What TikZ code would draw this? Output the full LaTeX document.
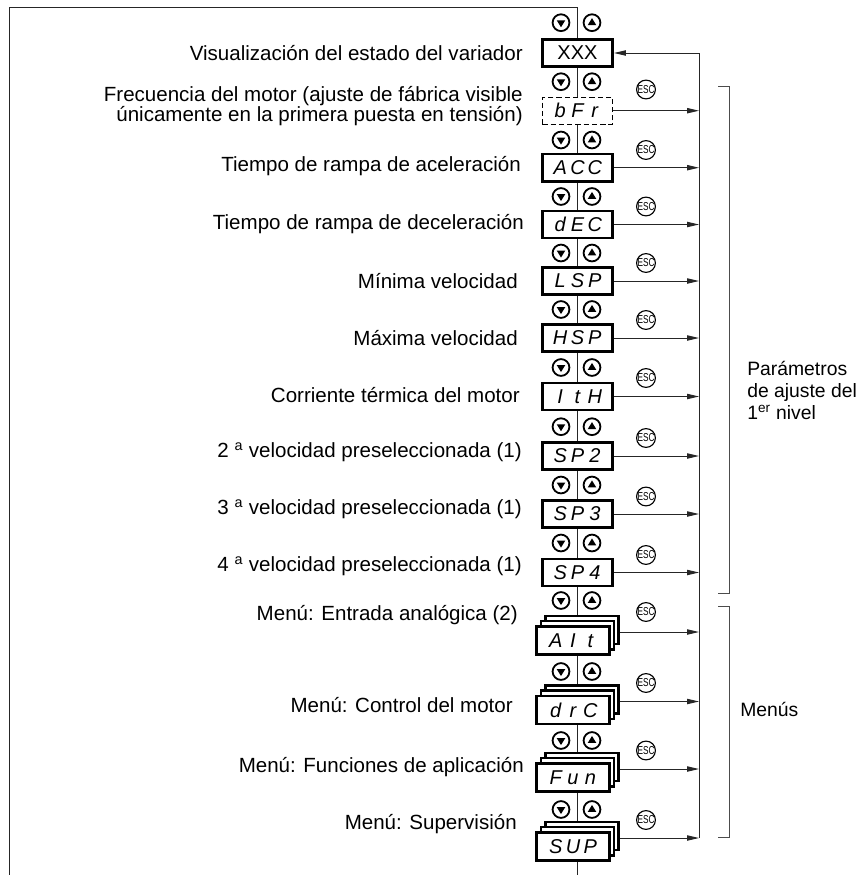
\documentclass[tikz,border=0pt]{standalone}
\usepackage{fontspec}
\setmainfont{Liberation Sans}
\usetikzlibrary{arrows.meta}
\newcommand{\segtxt}[3]{\makebox[13pt]{#1}\makebox[13pt]{#2}\makebox[13pt]{#3}}
\tikzset{
  conn/.style={line width=0.75pt, draw=black!85},
  arr/.style={conn, -{Triangle[length=9pt,width=4pt]}},
  lbl/.style={anchor=east, inner sep=0pt, font=\fontsize{15.4pt}{13.6pt}\selectfont, align=right},
  rlbl/.style={anchor=west, inner sep=0pt, font=\fontsize{14.5pt}{16.5pt}\selectfont, align=left},
  disp/.style={draw, line width=1.9pt, fill=white, minimum width=52.8pt, minimum height=20.5pt, inner sep=0pt, font=\itshape\fontsize{15pt}{15pt}\selectfont},
  dashdisp/.style={disp, line width=0.7pt, dash pattern=on 4pt off 2.2pt},
  mdisp/.style={disp, minimum width=55pt, minimum height=21.3pt},
  btn/.style={circle, draw, line width=1.35pt, minimum size=12.6pt, inner sep=0pt, fill=white},
  btndown/.style={btn, path picture={\fill[black] ([shift={(-3.2pt,1.8pt)}]path picture bounding box.center) -- ([shift={(3.2pt,1.8pt)}]path picture bounding box.center) -- ([shift={(0pt,-3.4pt)}]path picture bounding box.center) -- cycle;}},
  btnup/.style={btn, path picture={\fill[black] ([shift={(-3.2pt,-1.8pt)}]path picture bounding box.center) -- ([shift={(3.2pt,-1.8pt)}]path picture bounding box.center) -- ([shift={(0pt,3.4pt)}]path picture bounding box.center) -- cycle;}},
  esc/.style={circle, draw, line width=0.85pt, minimum size=14pt, inner sep=0pt, fill=white, font=\fontsize{8.6pt}{8.6pt}\selectfont},
  brk/.style={line width=0.7pt, draw=black!70}
}
\begin{document}
\begin{tikzpicture}[x=0.75pt,y=-0.75pt]
\useasboundingbox (0,0) rectangle (861,875);
\coordinate (col) at (577.5,0);
\coordinate (ftop) at (577.5,7);
\coordinate (fbl) at (9,875);
\coordinate (fbot) at (577.5,875);

% single boxes
\node[disp, font=\fontsize{15pt}{15pt}\selectfont] (xxx) at (577.5,53) {XXX};
\node[dashdisp] (bfr) at (577.5,110.7) {\segtxt{b}{F}{r}};
\node[disp] (acc) at (577.5,167.7) {\segtxt{A}{C}{C}};
\node[disp] (dec) at (577.5,224.5) {\segtxt{d}{E}{C}};
\node[disp] (lsp) at (577.5,281) {\segtxt{L}{S}{P}};
\node[disp] (hsp) at (577.5,338) {\segtxt{H}{S}{P}};
\node[disp] (ith) at (577.5,396.5) {\segtxt{I}{t}{H}};
\node[disp] (spb) at (577.5,456) {\segtxt{S}{P}{2}};
\node[disp] (spc) at (577.5,514) {\segtxt{S}{P}{3}};
\node[disp] (spd) at (577.5,572.5) {\segtxt{S}{P}{4}};

% stacked menu boxes (arrow level \yy)
\foreach \nm/\yy/\a/\b/\c in {ait/632/A/I/t, drc/701.5/d/r/C, fun/769/F/u/n, sup/838/S/U/P}{
  \node[mdisp] (\nm C) at (582,\yy-2) {};
  \node[mdisp] (\nm B) at (577.5,\yy+3.3) {};
  \node[mdisp] (\nm A) at (573,\yy+8.5) {\segtxt{\a}{\b}{\c}};
  \coordinate (\nm R) at (699,\yy);
}

% frame and centre line
\draw[conn] (fbl) -- (9,7) -- (ftop) -- (xxx.north);
\draw[conn] (xxx.south) -- (bfr.north);
\draw[conn] (bfr.south) -- (acc.north);
\draw[conn] (acc.south) -- (dec.north);
\draw[conn] (dec.south) -- (lsp.north);
\draw[conn] (lsp.south) -- (hsp.north);
\draw[conn] (hsp.south) -- (ith.north);
\draw[conn] (ith.south) -- (spb.north);
\draw[conn] (spb.south) -- (spc.north);
\draw[conn] (spc.south) -- (spd.north);
\draw[conn] (spd.south) -- (col |- aitC.north);
\draw[conn] (col |- aitA.south) -- (col |- drcC.north);
\draw[conn] (col |- drcA.south) -- (col |- funC.north);
\draw[conn] (col |- funA.south) -- (col |- supC.north);
\draw[conn] (col |- supA.south) -- (fbot);

% buttons
\foreach \yy [count=\i] in {22.7,81.7,140,196.5,253,309.5,367.5,426.7,485,543,600.5,671.5,740.5,809.5}{
  \node[btndown] (dn\i) at (561,\yy) {};
  \node[btnup] (up\i) at (592,\yy) {};
}

% return line and arrows
\coordinate (rtop) at (699,53);
\draw[arr] (supR) -- (rtop) -- (xxx.east);
\foreach \nm in {bfr,acc,dec,lsp,hsp,ith,spb,spc,spd}{
  \draw[arr] (\nm.east) -- (\nm.east -| rtop);
}
\foreach \nm in {ait,drc,fun,sup}{
  \draw[arr] (\nm R -| \nm C.east) -- (\nm R);
}

% ESC buttons
\foreach \nm/\yy in {e1/89.5,e2/150,e3/206.5,e4/263,e5/320,e6/378,e7/438,e8/496.5,e9/555,e10/612,e11/683,e12/750.5,e13/820}{
  \node[esc] (\nm) at (646,\yy) {\scalebox{0.72}[1]{ESC}};
}

% labels
\node[lbl] (l0) at (523,53) {Visualización del estado del variador};
\node[lbl] (l1) at (523,106) {Frecuencia del motor (ajuste de fábrica visible\\únicamente en la primera puesta en tensión)};
\node[lbl] (l2) at (521,166) {Tiempo de rampa de aceleración};
\node[lbl] (l3) at (524,224) {Tiempo de rampa de deceleración};
\node[lbl] (l4) at (518,281) {Mínima velocidad};
\node[lbl] (l5) at (518,338) {Máxima velocidad};
\node[lbl] (l6) at (520,395) {Corriente térmica del motor};
\node[lbl] (l7) at (522,452) {2 \textsuperscript{a} velocidad preseleccionada (1)};
\node[lbl] (l8) at (522,509) {3 \textsuperscript{a} velocidad preseleccionada (1)};
\node[lbl] (l9) at (522,566) {4 \textsuperscript{a} velocidad preseleccionada (1)};
\node[lbl] (l10) at (518,615) {Menú: Entrada analógica (2)};
\node[lbl] (l11) at (513,705) {Menú: Control del motor};
\node[lbl] (l12) at (524,767) {Menú: Funciones de aplicación};
\node[lbl] (l13) at (517,824) {Menú: Supervisión};

% brackets
\draw[brk] (718,86) -- (729,86) -- (729,593) -- (718,593);
\draw[brk] (718,606) -- (729,606) -- (729,837) -- (718,837);
\node[rlbl] (pa) at (747,390) {Parámetros\\de ajuste del\\1\textsuperscript{er} nivel};
\node[rlbl] (me) at (740,709) {Menús};
\end{tikzpicture}
\end{document}
